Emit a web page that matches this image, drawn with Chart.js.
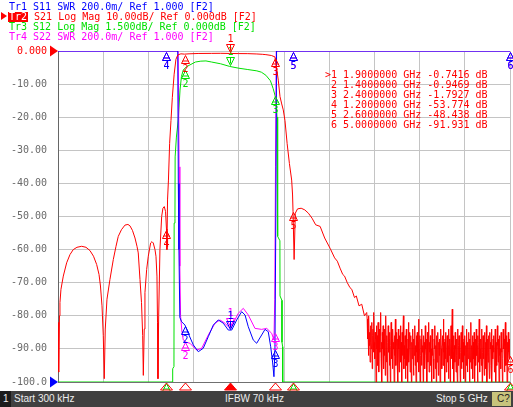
<!DOCTYPE html>
<html lang="en">
<head>
<meta charset="UTF-8">
<title>Bandpass filter sweep</title>
<script src="https://cdn.jsdelivr.net/npm/chart.js"></script>
<style>
  body { margin: 0; background: #fff; }
  #wrap { position: relative; width: 513px; height: 407px; overflow: hidden;
          font-family: "DejaVu Sans Mono", monospace; font-size: 10px; line-height: 10px; }
  #plot { position: absolute; left: 0; top: 0; }
  .hdr { position: absolute; left: 9px; white-space: pre; }
  .act { display: inline-block; height: 10px; background: #ff0000; color: #fff; margin-left: -1px; padding: 0 1px; }
  #arrow { position: absolute; left: 1px; top: 12px; width: 0; height: 0;
           border-left: 6px solid #ff0000; border-top: 4.5px solid transparent; border-bottom: 4.5px solid transparent; }
  #mtable { position: absolute; left: 325px; top: 70px; white-space: pre; color: #ff0000; }
  #status { position: absolute; left: 0; top: 391px; width: 513px; height: 16px; background: #404040;
            font-family: "Liberation Sans", sans-serif; font-size: 10px; color: #ececec; }
  #status span { position: absolute; top: 3px; white-space: pre; }
  #chan { position: absolute; left: 0; top: 0; width: 11px; height: 16px; background: #1c1c1c; }
  #cbox { position: absolute; left: 492px; top: 1px; width: 19px; height: 14px; background: #c8c47c; color: #202020; }
</style>
</head>
<body>
<div id="wrap">
  <canvas id="plot" width="513" height="407"></canvas>
  <div class="hdr" style="top:2px;color:#0000ff">Tr1 S11 SWR 200.0m/ Ref 1.000 [F2]</div>
  <div id="arrow"></div>
  <div class="hdr" style="top:12px;color:#ff0000"><span class="act">Tr2</span> S21 Log Mag 10.00dB/ Ref 0.000dB [F2]</div>
  <div class="hdr" style="top:22px;color:#00e000">Tr3 S12 Log Mag 1.500dB/ Ref 0.000dB [F2]</div>
  <div class="hdr" style="top:32px;color:#ff00ff">Tr4 S22 SWR 200.0m/ Ref 1.000 [F2]</div>
  <div id="mtable"></div>
  <div id="status">
    <div id="chan"></div>
    <span style="left:3px">1</span>
    <span style="left:14px">Start 300 kHz</span>
    <span style="left:225px">IFBW 70 kHz</span>
    <span style="left:436px">Stop 5 GHz</span>
    <div id="cbox"><span style="left:5px;top:2px">C?</span></div>
  </div>
</div>

<script>
  // sweep, GHz
  const startGHz = 0.0003;
  const stopGHz = 5.0;

  // markers (shared stimulus)
  const markerGHz = [1.9, 1.4, 2.4, 1.2, 2.6, 5.0];
  const markS21 = [-0.7416, -0.9469, -1.7927, -53.774, -48.438, -91.931];
  const markS12 = [-0.7, -0.8, -2.0, -15, -15, -15];
  const markS11 = [1.314, 1.344, 1.2, 3, 3, 3];
  const markS22 = [1.33, 1.25, 1.3, 3, 3, 3];

  // Tr2 S21, dB
  const s21GHz = [0.0003, 0.0055, 0.011, 0.0166, 0.022, 0.033, 0.059, 0.096, 0.133, 0.169,
    0.21, 0.262, 0.31, 0.354, 0.393, 0.428, 0.454, 0.470, 0.487, 0.501,
    0.512, 0.523, 0.542, 0.575, 0.612, 0.642, 0.667, 0.702, 0.741, 0.774,
    0.796, 0.824, 0.852, 0.874, 0.888, 0.907, 0.924, 0.937, 0.944, 0.954,
    0.962, 0.981, 0.999, 1.025, 1.040, 1.054, 1.073, 1.084, 1.095, 1.101,
    1.106, 1.114, 1.128, 1.147, 1.161, 1.176, 1.19, 1.2, 1.205, 1.212,
    1.222, 1.235, 1.25, 1.265, 1.285, 1.305, 1.325, 1.36, 1.4, 1.45,
    1.55, 1.7, 1.8, 1.9, 2.0, 2.1, 2.2, 2.26, 2.3, 2.36,
    2.4, 2.41, 2.437, 2.456, 2.475, 2.492, 2.511, 2.535, 2.56, 2.585,
    2.595, 2.6, 2.612, 2.625, 2.65, 2.69, 2.73, 2.77, 2.81, 2.85,
    2.9, 2.95, 3.01, 3.06, 3.09, 3.12, 3.15, 3.17, 3.2, 3.23,
    3.25, 3.28, 3.3, 3.33, 3.36, 3.39, 3.415];
  const s21Db = [-95, -82, -97, -80, -76, -72, -68, -64, -61.5, -60,
    -59.3, -59, -59.3, -60.3, -62, -64.5, -67.5, -71, -77, -86,
    -99, -84, -75, -69, -63, -59, -56, -54, -52.6, -52.4,
    -52.8, -54.2, -56.5, -59, -61, -69, -76, -86, -98, -84,
    -73, -66, -62, -58, -57.6, -58, -60, -62, -68, -82,
    -99, -80, -60, -50, -47.5, -47, -48.5, -53.774, -60, -45,
    -39, -28, -21, -14, -7, -2.5, -1.2, -0.85, -0.9469, -0.85,
    -0.75, -0.72, -0.7, -0.7416, -0.78, -0.8, -0.9, -1.0, -1.1, -1.35,
    -1.7927, -3.7, -8.8, -13.8, -16, -17.8, -21, -28, -34, -39,
    -43.5, -48.438, -63, -49, -47.7, -47.5, -48, -49, -50.5, -52.5,
    -53, -56.5, -59.6, -62.5, -63.5, -65.6, -67.5, -68, -70, -71.5,
    -72, -74.5, -74, -77, -76.5, -80, -79];
  // S21 noise floor from 3.42 GHz to stop, evenly spaced sweep points
  const s21TailStart = 3.42;
  const s21TailDb = [
    -81, -87, -84, -92, -80, -89, -85, -94, -83, -88,
    -90, -82, -96, -86, -84, -91, -79, -88, -93, -85,
    -87, -100, -83, -90, -86, -95, -82, -89, -97, -84,
    -91, -86, -79, -93, -88, -100, -85, -90, -83, -96,
    -87, -92, -84, -98, -80, -89, -94, -86, -100, -88,
    -83, -91, -87, -95, -85, -100, -89, -82, -93, -87,
    -96, -84, -90, -88, -100, -86, -92, -81, -95, -89,
    -85, -93, -87, -100, -84, -90, -97, -86, -91, -83,
    -94, -88, -100, -85, -92, -87, -80, -96, -89, -93,
    -86, -99, -88, -84, -95, -90, -100, -87, -82, -94,
    -89, -85, -97, -91, -86, -100, -88, -93, -84, -90,
    -98, -87, -92, -83, -95, -89, -100, -86, -91, -85,
    -94, -88, -81, -97, -90, -86, -100, -92, -87, -95,
    -84, -91, -89, -100, -86, -93, -88, -96, -83, -90,
    -92, -87, -100, -85, -94, -89, -82, -97, -88, -91,
    -86, -95, -90, -100, -84, -92, -88, -93, -99, -87,
    -90, -83, -96, -89, -100, -86, -94, -91, -85, -98,
    -88, -92, -87, -100, -93, -84, -90, -96, -89, -86,
    -95, -81, -91, -88, -100, -87, -93, -85, -97, -90,
    -86, -94, -89, -99, -84, -92, -87, -100, -90, -83,
    -93, -88, -78, -96, -91, -86, -100, -89, -94, -85,
    -90, -97, -87, -92, -100, -84, -95, -89, -86, -93,
    -88, -100, -91, -85, -96, -90, -83, -94, -88, -99,
    -87, -92, -86, -100, -89, -95, -84, -91, -97, -88,
    -93, -85, -90, -100, -87, -94, -82, -96, -89, -91,
    -86, -99, -88, -93, -85, -100, -90, -87, -95, -84,
    -92, -89, -100, -86, -94, -88, -81, -97, -90, -93,
    -87, -95, -84, -100, -91, -86, -93, -89, -98, -85,
    -90, -88, -96, -83, -100, -92, -87, -94, -86, -91,
    -99, -85, -90, -88, -95, -84, -100, -89, -93, -87,
    -91, -86, -97, -90, -84, -100, -92, -88, -95, -83,
    -89, -94, -87, -100, -86, -92, -90, -96, -85, -91,
    -88, -100, -93, -84, -90, -87, -97, -89, -82, -95,
    -90, -86, -100, -88, -94, -85, -91, -93, -87, -92];

  // Tr3 S12, dB (1.5 dB/div, clipped at -15)
  const s12GHz = [0.0003, 1.268, 1.269, 1.283, 1.285, 1.294, 1.296, 1.31, 1.331, 1.35,
    1.366, 1.386, 1.42, 1.46, 1.52, 1.58, 1.637, 1.7, 1.8, 1.9,
    2.0, 2.1, 2.2, 2.25, 2.3, 2.35, 2.38, 2.4, 2.415, 2.423,
    2.43, 2.455, 2.456, 2.477, 2.478, 2.485, 2.486, 5.0];
  const s12Db = [-15, -15, -14.4, -14.3, -7.8, -7.6, -4.8, -3.9, -3.1, -1.77,
    -1.15, -0.86, -0.72, -0.63, -0.5, -0.46, -0.45, -0.5, -0.58, -0.7,
    -0.78, -0.84, -0.9, -0.96, -1.1, -1.35, -1.7, -2.0, -2.4, -3.0,
    -8.4, -8.6, -11.1, -11.3, -13.2, -13.4, -15, -15];

  // Tr1 S11, SWR (clipped at 3)
  const s11GHz = [0.0003, 1.325, 1.331, 1.338, 1.348, 1.368, 1.405, 1.441, 1.497, 1.552,
    1.607, 1.663, 1.718, 1.773, 1.829, 1.884, 1.922, 1.977, 2.032, 2.069,
    2.105, 2.16, 2.198, 2.253, 2.29, 2.326, 2.353, 2.375, 2.389, 2.4,
    2.41, 2.418, 5.0];
  const s11Swr = [3, 3, 2.2, 1.8, 1.39, 1.364, 1.344, 1.294, 1.224, 1.183,
    1.204, 1.274, 1.344, 1.375, 1.355, 1.314, 1.314, 1.375, 1.425, 1.405,
    1.334, 1.254, 1.234, 1.284, 1.318, 1.304, 1.213, 1.115, 1.032, 1.2,
    2.0, 3, 3];

  // Tr4 S22, SWR (clipped at 3)
  const s22GHz = [0.0003, 1.33, 1.34, 1.348, 1.356, 1.372, 1.386, 1.42, 1.46, 1.534,
    1.59, 1.663, 1.737, 1.792, 1.847, 1.903, 1.939, 1.994, 2.05, 2.105,
    2.179, 2.253, 2.309, 2.364, 2.389, 2.398, 2.406, 2.414, 5.0];
  const s22Swr = [3, 3, 2.3, 1.7, 1.4, 1.3, 1.254, 1.24, 1.234, 1.193,
    1.204, 1.284, 1.355, 1.375, 1.355, 1.324, 1.355, 1.415, 1.445, 1.405,
    1.324, 1.318, 1.324, 1.294, 1.254, 1.5, 2.3, 3, 3];

  const RED = '#ff0000', GREEN = '#00e000', BLUE = '#0000ff', MAG = '#ff00ff';

  function pts(xs, ys) {
    return xs.map((x, i) => ({ x: x, y: ys[i] }));
  }

  const tailStep = (stopGHz - s21TailStart) / (s21TailDb.length - 1);
  const s21Pts = pts(s21GHz, s21Db).concat(
    s21TailDb.map((v, i) => ({ x: s21TailStart + i * tailStep, y: v })));

  // marker readout table
  document.getElementById('mtable').textContent = markerGHz.map((f, i) => {
    const v = markS21[i];
    const val = Math.abs(v) < 10 ? v.toFixed(4) : v.toFixed(3);
    return (i === 0 ? '>1' : ' ' + (i + 1)) + ' ' + f.toFixed(7) + ' GHz ' + val + ' dB';
  }).join('\n');

  const traces = [
    { axis: 'y', color: RED, marks: markS21 },
    { axis: 'yS', color: BLUE, marks: markS11 },
    { axis: 'yS', color: MAG, marks: markS22 },
    { axis: 'yG', color: GREEN, marks: markS12 }
  ];

  function drawMarker(c, x, y, active, label, color) {
    c.strokeStyle = color;
    c.fillStyle = color;
    c.beginPath();
    if (active) {
      c.moveTo(x, y - 1);
      c.lineTo(x - 4, y - 9);
      c.lineTo(x + 4, y - 9);
      c.closePath();
      c.moveTo(x, y - 9);
      c.lineTo(x, y - 3);
      c.stroke();
      c.textBaseline = 'bottom';
      c.fillText(label, x, y - 9);
    } else {
      c.moveTo(x, y + 1);
      c.lineTo(x - 4, y + 9);
      c.lineTo(x + 4, y + 9);
      c.closePath();
      c.moveTo(x - 3, y + 6.5);
      c.lineTo(x + 3, y + 6.5);
      c.stroke();
      c.textBaseline = 'top';
      c.fillText(label, x, y + 10);
    }
  }

  const markerPlugin = {
    id: 'vnaMarkers',
    afterDatasetsDraw(chart) {
      const c = chart.ctx;
      const xs = chart.scales.x;
      const area = chart.chartArea;
      c.save();
      c.lineWidth = 1;
      c.font = '10px "DejaVu Sans Mono"';
      c.textAlign = 'center';
      traces.slice().reverse().forEach(tr => {
        const ys = chart.scales[tr.axis];
        markerGHz.forEach((f, i) => {
          const px = Math.round(xs.getPixelForValue(f)) + 0.5;
          const py = Math.round(ys.getPixelForValue(tr.marks[i])) + 0.5;
          drawMarker(c, px, py, i === 0, String(i + 1), tr.color);
        });
      });
      // stimulus marks of the active trace under the grid
      markerGHz.forEach((f, i) => {
        const px = Math.round(xs.getPixelForValue(f)) + 0.5;
        const b = area.bottom + 1;
        c.beginPath();
        c.moveTo(px, b);
        c.lineTo(px - 6, b + 7);
        c.lineTo(px + 6, b + 7);
        c.closePath();
        c.fillStyle = RED;
        c.strokeStyle = RED;
        if (i === 0) c.fill();
        c.stroke();
      });
      // reference level arrows
      const refs = [[chart.scales.y.getPixelForValue(0), RED], [chart.scales.yS.getPixelForValue(1), BLUE]];
      refs.forEach(([ry, col]) => {
        c.beginPath();
        c.moveTo(area.left - 8, ry - 5.5);
        c.lineTo(area.left, ry);
        c.lineTo(area.left - 8, ry + 5.5);
        c.closePath();
        c.fillStyle = col;
        c.fill();
      });
      c.restore();
    }
  };

  const divs = [];
  for (let i = 0; i <= 10; i++) divs.push(startGHz + i * (stopGHz - startGHz) / 10);

  const line = (label, data, color, axis) => ({
    label: label, data: data, yAxisID: axis, showLine: true,
    borderColor: color, backgroundColor: color, borderWidth: 1,
    pointRadius: 0, tension: 0
  });

  new Chart(document.getElementById('plot'), {
    type: 'scatter',
    data: {
      datasets: [
        line('S21', s21Pts, RED, 'y'),
        line('S11', pts(s11GHz, s11Swr), BLUE, 'yS'),
        line('S22', pts(s22GHz, s22Swr), MAG, 'yS'),
        line('S12', pts(s12GHz, s12Db), GREEN, 'yG')
      ]
    },
    options: {
      responsive: false,
      animation: false,
      events: [],
      layout: { padding: { top: 51, bottom: 25, left: 0, right: 3 } },
      plugins: { legend: { display: false }, tooltip: { enabled: false } },
      scales: {
        x: {
          type: 'linear', min: startGHz, max: stopGHz,
          afterBuildTicks: s => { s.ticks = divs.map(v => ({ value: v })); },
          afterFit: s => { s.height = 0; },
          ticks: { display: false },
          grid: { color: '#c4c4c4', drawTicks: false },
          border: { color: '#707070' }
        },
        y: {
          min: -100, max: 0,
          ticks: {
            stepSize: 10, padding: 11,
            font: { family: 'DejaVu Sans Mono', size: 10 },
            color: ctx => ctx.tick.value === 0 ? RED : '#6a6a6a',
            callback: v => v === 0 ? '0.000' : (Math.abs(v) >= 100 ? v.toFixed(1) : v.toFixed(2))
          },
          afterFit: s => { s.width = 58; },
          grid: { color: '#c4c4c4', drawTicks: false },
          border: { color: '#666666' }
        },
        yG: { display: false, min: -15, max: 0 },
        yS: { display: false, min: 1, max: 3 }
      }
    },
    plugins: [markerPlugin]
  });
</script>
</body>
</html>
